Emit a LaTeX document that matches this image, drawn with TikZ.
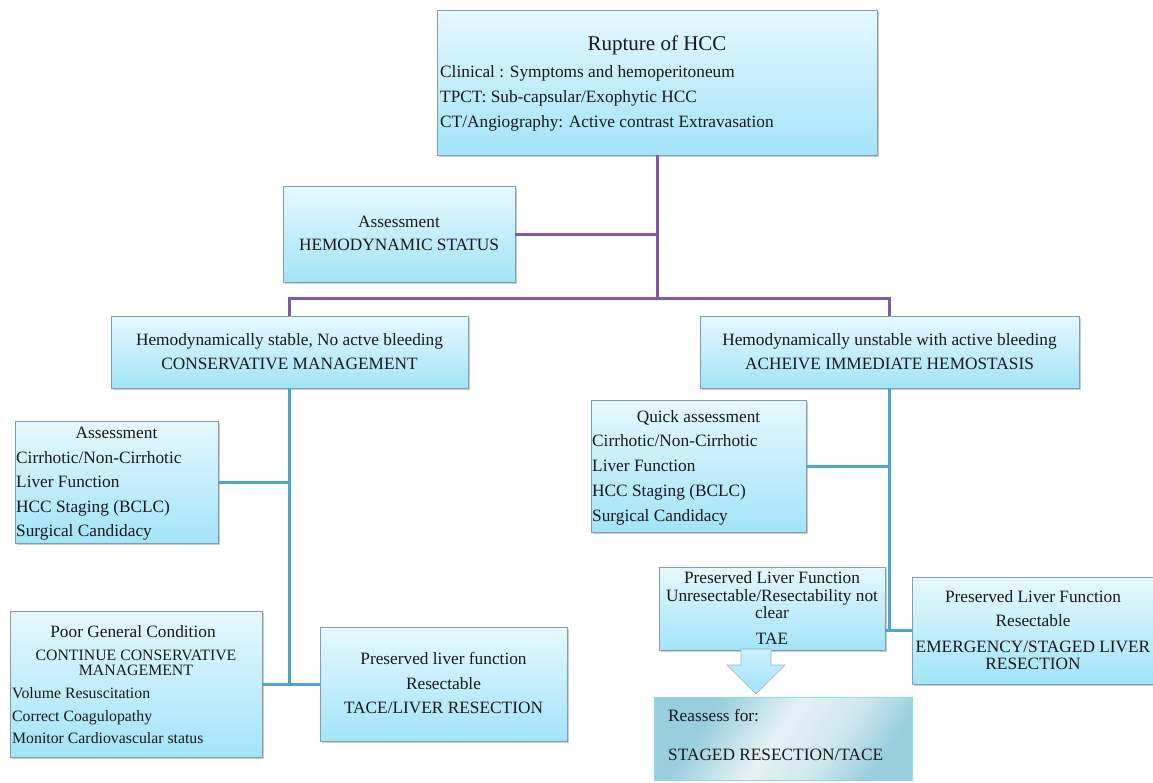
\documentclass[tikz,border=0pt]{standalone}
\usepackage{fontspec}
\setmainfont{Liberation Serif}
\usetikzlibrary{shadows,calc}
\definecolor{boxtop}{HTML}{E6F8FE}
\definecolor{boxbot}{HTML}{A2E4F8}
\definecolor{boxline}{HTML}{7F9FAA}
\definecolor{purp}{HTML}{7D5BA6}
\definecolor{blu}{HTML}{4BA6C9}
\definecolor{reA}{HTML}{98CEDD}
\definecolor{reB}{HTML}{E4F2F5}
\definecolor{reline}{HTML}{93D8EC}
\pgfdeclarehorizontalshading{reshade}{100bp}{color(0bp)=(reA); color(30bp)=(reA); color(48bp)=(reB); color(62bp)=(reB!70!reA); color(75bp)=(reA); color(100bp)=(reA)}
\begin{document}
\begin{tikzpicture}[x=1pt,y=-1pt,
  box/.style={draw=boxline, line width=0.8pt, top color=boxtop, bottom color=boxbot,
    inner sep=0pt, outer sep=0pt, anchor=north west,
    drop shadow={shadow xshift=1.5pt, shadow yshift=-2pt, fill=black!50, opacity=0.4}},
  txt/.style={font=\fontsize{17.3}{19}\selectfont, inner sep=0pt, text=black!90, anchor=mid, yshift=-3pt},
  ltxt/.style={txt, anchor=mid west},
  stxt/.style={font=\fontsize{15.8}{17}\selectfont, inner sep=0pt, text=black!90, anchor=mid, yshift=-3pt},
  sltxt/.style={stxt, anchor=mid west},
  pline/.style={draw=purp, line width=3pt},
  bline/.style={draw=blu, line width=3pt},
]
\fill[white] (0,0) rectangle (1153,782);
\useasboundingbox (0,0) rectangle (1153,782);

% boxes
\node[box, minimum width=440, minimum height=145] (top) at (437,10) {};
\node[box, minimum width=232, minimum height=96] (hem) at (283,186) {};
\node[box, minimum width=357, minimum height=72] (stable) at (111,316) {};
\node[box, minimum width=379, minimum height=72] (unstable) at (700,316) {};
\node[box, minimum width=203, minimum height=122] (assessL) at (15,421) {};
\node[box, minimum width=215, minimum height=132] (quick) at (591,400) {};
\node[box, minimum width=252, minimum height=146] (poor) at (10,611) {};
\node[box, minimum width=247, minimum height=114] (presL) at (320,627) {};
\node[box, minimum width=226, minimum height=83] (tae) at (659,567) {};
\node[box, minimum width=246, minimum height=107] (resR) at (912,577) {};
\node[draw=reline, line width=1pt, shading=reshade, shading angle=-35,
  inner sep=0pt, outer sep=0pt, anchor=north west,
  minimum width=258, minimum height=83] (reass) at (654,697) {};

% purple connectors
\coordinate (j1) at ($(stable.north)+(0,-18)$);
\draw[pline] (top.south) -- (top.south |- j1);
\draw[pline] (hem.east) -- (hem.east -| top.south);
\draw[pline] (stable.north) -- (j1) -| (unstable.north);

% blue connectors
\draw[bline] (stable.south) -- (stable.south |- presL.west);
\draw[bline] (assessL.east) -- (assessL.east -| stable.south);
\draw[bline] (poor.east) -- (presL.west);
\draw[bline] (unstable.south) -- (unstable.south |- resR.west);
\draw[bline] (quick.east) -- (quick.east -| unstable.south);
\draw[bline] (tae.east |- resR.west) -- (resR.west);

% block arrow
\coordinate (at) at ($(tae.south)+(-16,0)$);
\draw[draw=boxline!80, line width=0.6pt, top color=boxtop!60!boxbot, bottom color=boxbot]
  ($(at)+(-15,-1)$) -- ($(at)+(15,-1)$) -- ($(at)+(15,15)$) -- ($(at)+(29,15)$)
  -- ($(at)+(0,44)$) -- ($(at)+(-29,15)$) -- ($(at)+(-15,15)$) -- cycle;

% texts
\node[txt, font=\fontsize{21}{23}\selectfont] (t1) at (657,45) {Rupture of HCC};
\node[ltxt] (t2) at (440,72) {Clinical : Symptoms and hemoperitoneum};
\node[ltxt] (t3) at (440,97) {TPCT: Sub-capsular/Exophytic HCC};
\node[ltxt] (t4) at (440,122) {CT/Angiography: Active contrast Extravasation};

\node[txt] (h1) at (399,222) {Assessment};
\node[txt] (h2) at (399,245) {HEMODYNAMIC STATUS};

\node[txt] (s1) at (289.5,340) {Hemodynamically stable, No actve bleeding};
\node[txt] (s2) at (289.5,364) {CONSERVATIVE MANAGEMENT};

\node[txt] (u1) at (889.5,340) {Hemodynamically unstable with active bleeding};
\node[txt] (u2) at (889.5,364) {ACHEIVE IMMEDIATE HEMOSTASIS};

\node[txt] (a0) at (116.5,433) {Assessment};
\node[ltxt] (a1) at (16,458) {Cirrhotic/Non-Cirrhotic};
\node[ltxt] (a2) at (16,482) {Liver Function};
\node[ltxt] (a3) at (16,507) {HCC Staging (BCLC)};
\node[ltxt] (a4) at (16,531) {Surgical Candidacy};

\node[txt] (q0) at (698.5,417) {Quick assessment};
\node[ltxt] (q1) at (592,441) {Cirrhotic/Non-Cirrhotic};
\node[ltxt] (q2) at (592,466) {Liver Function};
\node[ltxt] (q3) at (592,491) {HCC Staging (BCLC)};
\node[ltxt] (q4) at (592,516) {Surgical Candidacy};

\node[txt] (p0) at (133,632) {Poor General Condition};
\node[stxt] (p1) at (136,655) {CONTINUE CONSERVATIVE};
\node[stxt] (p2) at (136,670) {MANAGEMENT};
\node[sltxt] (p3) at (12,693) {Volume Resuscitation};
\node[sltxt] (p4) at (12,716) {Correct Coagulopathy};
\node[sltxt] (p5) at (12,738) {Monitor Cardiovascular status};

\node[txt] (l1) at (443.5,659) {Preserved liver function};
\node[txt] (l2) at (443.5,684) {Resectable};
\node[txt] (l3) at (443.5,708) {TACE/LIVER RESECTION};

\node[txt] (e1) at (772,578) {Preserved Liver Function};
\node[txt] (e2) at (772,596) {Unresectable/Resectability not};
\node[txt] (e3) at (772,613) {clear};
\node[txt] (e4) at (772,639) {TAE};

\node[txt] (r1) at (1033,597) {Preserved Liver Function};
\node[txt] (r2) at (1033,621) {Resectable};
\node[txt] (r3) at (1033,647) {EMERGENCY/STAGED LIVER};
\node[txt] (r4) at (1033,664) {RESECTION};

\node[ltxt] (g1) at (668,716) {Reassess for:};
\node[ltxt] (g2) at (668,755) {STAGED RESECTION/TACE};
\end{tikzpicture}
\end{document}
